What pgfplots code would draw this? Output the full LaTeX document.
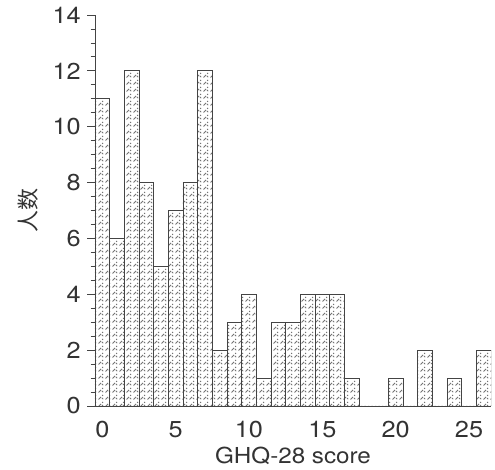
\documentclass[border=0pt]{standalone}
\usepackage{pgfplots}
\pgfplotsset{compat=1.18}
\usepackage{fontspec}
\setmainfont{TeX Gyre Heros}[FakeStretch=1.1]
\newfontfamily\cjk{Noto Sans CJK SC}
\usetikzlibrary{patterns}
\definecolor{txt}{HTML}{333333}
\definecolor{edge}{HTML}{444444}
\pgfdeclarepatternformonly{dashhatch}{\pgfqpoint{-1pt}{-1pt}}{\pgfqpoint{8pt}{8pt}}{\pgfqpoint{7pt}{7pt}}{%
  \pgfsetlinewidth{0.8pt}%
  \pgfpathmoveto{\pgfqpoint{0.5pt}{0.5pt}}\pgfpathlineto{\pgfqpoint{3pt}{3pt}}%
  \pgfpathmoveto{\pgfqpoint{4.2pt}{4.2pt}}\pgfpathlineto{\pgfqpoint{5pt}{5pt}}%
  \pgfpathmoveto{\pgfqpoint{4pt}{2pt}}\pgfpathlineto{\pgfqpoint{5.2pt}{0.8pt}}%
  \pgfusepath{stroke}%
}
\begin{document}
\begin{tikzpicture}
\begin{axis}[
  scale only axis,
  width=396pt, height=391pt,
  xmin=-0.5, xmax=26.5, ymin=0, ymax=14,
  axis x line=bottom, axis y line=left,
  axis line style={-, edge, line width=0.9pt},
  xtick={0,5,...,25}, ytick={0,2,...,14},
  minor y tick num=3,
  x tick style={draw=none},
  y tick style={edge, line width=0.8pt},
  tick align=outside,
  major tick length=7.7pt, minor tick length=4.3pt,
  /pgf/number format/assume math mode=true,
  every tick label/.append style={font=\fontsize{23}{27}\selectfont, text=txt},
  xticklabel style={anchor=base, yshift=-24pt},
  yticklabel style={anchor=east, xshift=-3pt},
  xlabel={GHQ-28 score},
  ylabel={{\cjk 人数}},
  xlabel style={at={(axis description cs:0.5,-0.146)}, anchor=base, font=\fontsize{22}{26}\selectfont, text=txt},
  ylabel style={at={(axis description cs:-0.168,0.5)}, anchor=center, font=\fontsize{22}{26}\selectfont, text=txt},
]
\addplot[ybar, bar width=1, draw=edge, line width=0.8pt, pattern=dashhatch, pattern color=black!55]
coordinates {
(0,11) (1,6) (2,12) (3,8) (4,5) (5,7) (6,8) (7,12) (8,2) (9,3)
(10,4) (11,1) (12,3) (13,3) (14,4) (15,4) (16,4) (17,1) (18,0) (19,0)
(20,1) (21,0) (22,2) (23,0) (24,1) (25,0) (26,2)
};
\end{axis}
\path ([xshift=-95pt,yshift=-64pt]current axis.south west) rectangle ++(495pt,470pt);
\end{tikzpicture}
\end{document}
